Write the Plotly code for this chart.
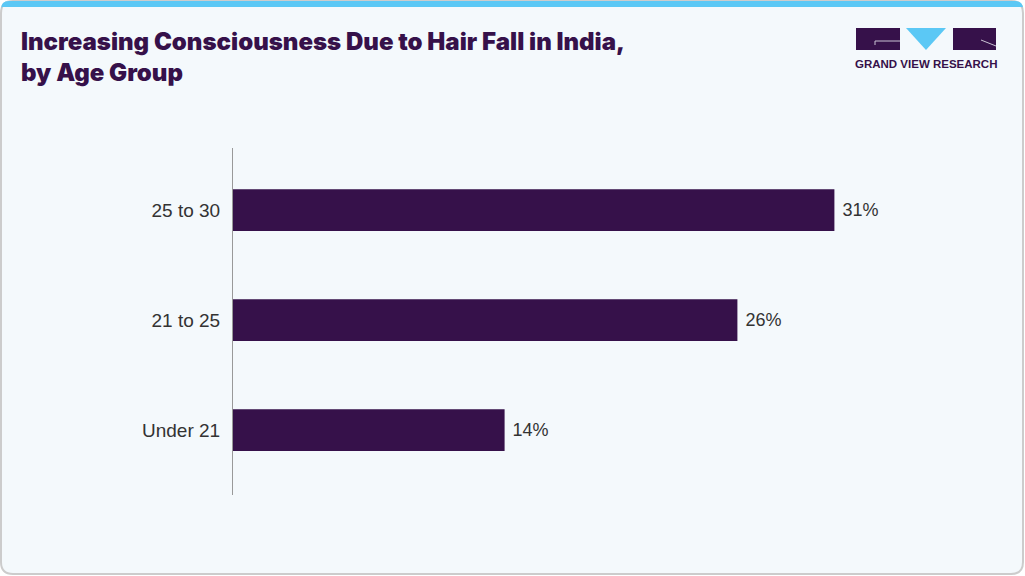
import plotly.graph_objects as go

categories = ["Under 21", "21 to 25", "25 to 30"]
values = [14, 26, 31]
value_labels = ["14%", "26%", "31%"]
title_lines = ["Increasing Consciousness Due to Hair Fall in India,", "by Age Group"]

W, H = 1025, 576
PURPLE = "#36114a"
BLUE = "#5bc8f5"
CARD = "#f4f9fc"
LABEL_FONT = "Liberation Sans, Arial, sans-serif"

def px(x):
    return x / W

def py(y):
    return 1 - y / H

def rr_path(x0, y0, x1, y1, r, top_only=False):
    def P(x, y):
        return f"{px(x):.5f},{py(y):.5f}"
    if top_only:
        return (f"M {P(x0, y1)} L {P(x0, y0 + r)} Q {P(x0, y0)} {P(x0 + r, y0)} "
                f"L {P(x1 - r, y0)} Q {P(x1, y0)} {P(x1, y0 + r)} L {P(x1, y1)} Z")
    return (f"M {P(x0 + r, y0)} L {P(x1 - r, y0)} Q {P(x1, y0)} {P(x1, y0 + r)} "
            f"L {P(x1, y1 - r)} Q {P(x1, y1)} {P(x1 - r, y1)} L {P(x0 + r, y1)} "
            f"Q {P(x0, y1)} {P(x0, y1 - r)} L {P(x0, y0 + r)} Q {P(x0, y0)} {P(x0 + r, y0)} Z")

fig = go.Figure()
fig.add_trace(go.Bar(
    x=values, y=categories, orientation="h",
    marker=dict(color=PURPLE, line=dict(width=0)),
    width=0.38,
    text=value_labels, texttemplate=" %{text}", textposition="outside",
    textfont=dict(family=LABEL_FONT, size=18, color="#333333"),
    cliponaxis=False,
    hoverinfo="skip",
))

shapes = [
    dict(type="path", xref="paper", yref="paper", path=rr_path(1, 1, 1023, 574, 12),
         fillcolor=CARD, line=dict(color="#cccccc", width=2), layer="below"),
    dict(type="path", xref="paper", yref="paper", path=rr_path(1, 1, 1023, 7, 8, top_only=True),
         fillcolor=BLUE, line=dict(width=0), layer="below"),
    # logo
    dict(type="rect", xref="paper", yref="paper", x0=px(856), x1=px(900), y0=py(50), y1=py(28),
         fillcolor=PURPLE, line=dict(width=0)),
    dict(type="path", xref="paper", yref="paper",
         path=f"M {px(906):.5f},{py(28):.5f} L {px(946):.5f},{py(28):.5f} L {px(926):.5f},{py(50):.5f} Z",
         fillcolor=BLUE, line=dict(width=0)),
    dict(type="rect", xref="paper", yref="paper", x0=px(953), x1=px(996), y0=py(50), y1=py(28),
         fillcolor=PURPLE, line=dict(width=0)),
    dict(type="line", xref="paper", yref="paper", x0=px(875), x1=px(900), y0=py(41), y1=py(41),
         line=dict(color="#c9c3d3", width=1)),
    dict(type="line", xref="paper", yref="paper", x0=px(875), x1=px(875), y0=py(41), y1=py(45),
         line=dict(color="#c9c3d3", width=1)),
    dict(type="line", xref="paper", yref="paper", x0=px(981), x1=px(996), y0=py(40), y1=py(46),
         line=dict(color="#c9c3d3", width=1)),
]

title_font = dict(family="Inter, Noto Sans, sans-serif", size=24, color=PURPLE, weight=900)
annotations = [
    dict(xref="paper", yref="paper", x=px(19), y=py(57), xanchor="left", yanchor="middle",
         align="left", showarrow=False, text="<br>".join(title_lines), font=title_font),
    dict(xref="paper", yref="paper", x=px(926), y=py(63.5), xanchor="center", yanchor="middle",
         showarrow=False, text="GRAND VIEW RESEARCH",
         font=dict(family=LABEL_FONT, size=11.5, color=PURPLE, weight="bold")),
]

fig.update_layout(
    width=W, height=H,
    margin=dict(l=0, r=0, t=0, b=0),
    paper_bgcolor="white",
    plot_bgcolor="rgba(0,0,0,0)",
    showlegend=False,
    shapes=shapes,
    annotations=annotations,
    xaxis=dict(domain=[px(233), px(1000)], range=[0, 767 / 19.4], visible=False, fixedrange=True),
    yaxis=dict(domain=[py(495), py(148)], range=[-0.59, 2.565], showline=True, linecolor="#999999",
               linewidth=1, showgrid=False, zeroline=False, ticks="", ticklabelstandoff=8,
               tickfont=dict(family=LABEL_FONT, size=19, color="#333333"),
               fixedrange=True),
)

fig.write_html("out.html", config={"displayModeBar": False},
               post_script="document.body.style.margin='0';document.body.style.padding='0';")
